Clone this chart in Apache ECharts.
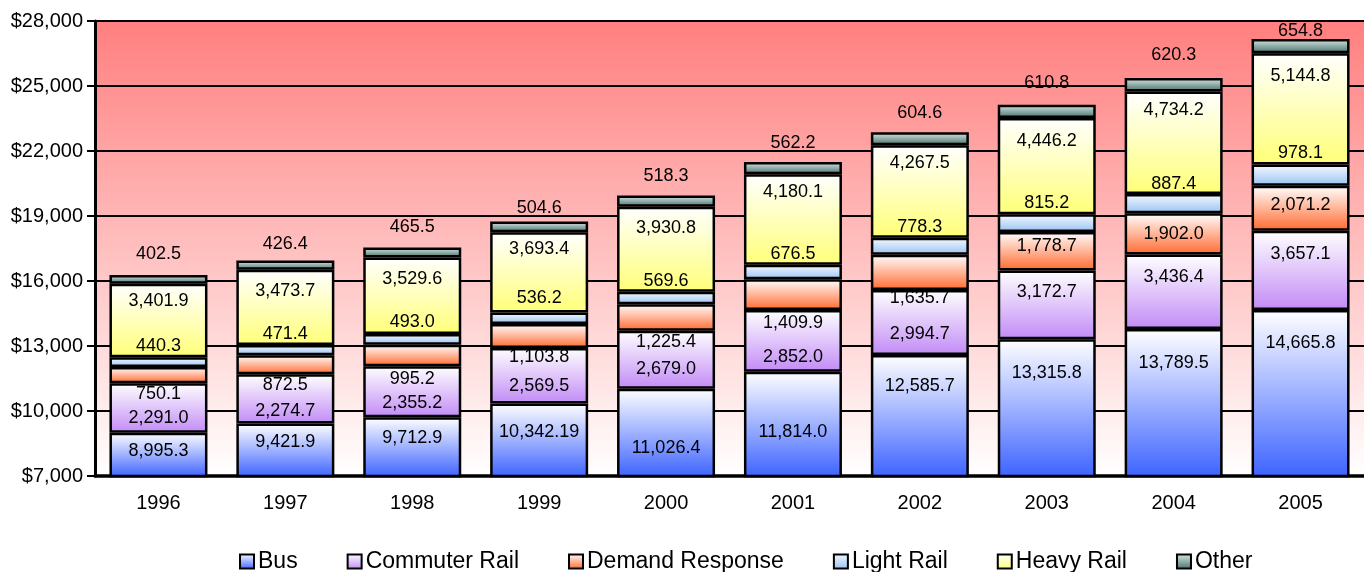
<!DOCTYPE html>
<html>
<head>
<meta charset="utf-8">
<script src="https://cdn.jsdelivr.net/npm/echarts@6/dist/echarts.min.js"></script>
<style>
  html, body { margin: 0; padding: 0; background: #ffffff; }
  #chart { width: 1364px; height: 572px; }
</style>
</head>
<body>
<div id="chart"></div>
<script>
// Transit operating expenses by mode, millions of dollars
const years = ['1996', '1997', '1998', '1999', '2000', '2001', '2002', '2003', '2004', '2005'];
const bus            = [8995.3, 9421.9, 9712.9, 10342.19, 11026.4, 11814.0, 12585.7, 13315.8, 13789.5, 14665.8];
const commuterRail   = [2291.0, 2274.7, 2355.2, 2569.5, 2679.0, 2852.0, 2994.7, 3172.7, 3436.4, 3657.1];
const demandResponse = [750.1, 872.5, 995.2, 1103.8, 1225.4, 1409.9, 1635.7, 1778.7, 1902.0, 2071.2];
const lightRail      = [440.3, 471.4, 493.0, 536.2, 569.6, 676.5, 778.3, 815.2, 887.4, 978.1];
const heavyRail      = [3401.9, 3473.7, 3529.6, 3693.4, 3930.8, 4180.1, 4267.5, 4446.2, 4734.2, 5144.8];
const other          = [402.5, 426.4, 465.5, 504.6, 518.3, 562.2, 604.6, 610.8, 620.3, 654.8];

// Value axis range and step
const yMin = 7000;
const yMax = 28000;
const yStep = 3000;

// Vertical nudge (px) of each value label from the centre of its segment
const labelNudge = {
  'Bus':             [-4, -8, -9, -8, 15, 8, -30, -35, -40, -51],
  'Commuter Rail':   [10, 12, 11, 10, 9, 16, 11, -13, -15, -16],
  'Demand Response': [19, 20, 24, 21, 25, 28, 26, -5, 0, -3],
  'Light Rail':      [-16, -16, -17, -20, -17, -18, -19, -20, -20, -22],
  'Heavy Rail':      [-19, -16, -17, -23, -21, -27, -29, -25, -33, -33],
  'Other':           [-25, -21, -25, -19, -25, -25, -26, -28, -30, -15]
};

// Fill of each mode: light top fading into the mode colour at the bottom
const modeFill = {
  'Bus':             ['#ffffff', '#3d63ff'],
  'Commuter Rail':   ['#ffffff', '#c28bf6'],
  'Demand Response': ['#ffffff', '#ff6a30'],
  'Light Rail':      ['#f6faff', '#98c2f2'],
  'Heavy Rail':      ['#ffffff', '#ffff78'],
  'Other':           ['#dceae7', '#47706b']
};

const modes = [
  ['Bus', bus],
  ['Commuter Rail', commuterRail],
  ['Demand Response', demandResponse],
  ['Light Rail', lightRail],
  ['Heavy Rail', heavyRail],
  ['Other', other]
];

const FONT = '"Liberation Sans", Arial, sans-serif';

function fmtValue(v) {
  return v.toLocaleString('en-US', { minimumFractionDigits: 1, maximumFractionDigits: 2 });
}

function vFill(top, bottom) {
  return new echarts.graphic.LinearGradient(0, 0, 0, 1, [
    { offset: 0, color: top },
    { offset: 1, color: bottom }
  ]);
}

const series = modes.map(([name, values]) => ({
  name: name,
  type: 'bar',
  stack: 'total',
  barWidth: 98,
  clip: true,
  itemStyle: {
    color: vFill(modeFill[name][0], modeFill[name][1]),
    borderColor: '#000000',
    borderWidth: 2.5
  },
  label: {
    show: true,
    position: 'inside',
    color: '#000000',
    textBorderWidth: 0,
    fontFamily: FONT,
    fontSize: 18,
    formatter: p => fmtValue(p.value)
  },
  data: values.map((v, i) => ({ value: v, label: { offset: [0, labelNudge[name][i]] } }))
}));

const chart = echarts.init(document.getElementById('chart'), null, { renderer: 'canvas' });

chart.setOption({
  animation: false,
  backgroundColor: '#ffffff',
  grid: {
    left: 95,
    right: -7,
    top: 21,
    bottom: 96,
    show: true,
    borderWidth: 0,
    backgroundColor: vFill('#ff7f7f', '#ffffff')
  },
  legend: {
    left: 234,
    top: 545,
    icon: 'rect',
    itemWidth: 14,
    itemHeight: 14,
    itemGap: 49,
    itemStyle: { borderColor: '#000000', borderWidth: 2 },
    textStyle: { color: '#000000', fontSize: 23, fontFamily: FONT, padding: [0, 0, 0, -1] },
    data: modes.map(m => m[0])
  },
  xAxis: {
    type: 'category',
    data: years,
    axisLine: { show: true, onZero: false, lineStyle: { color: '#000000', width: 3.5 } },
    axisTick: { show: false },
    axisLabel: { color: '#000000', fontSize: 20, fontFamily: FONT, margin: 17 },
    splitLine: { show: false }
  },
  yAxis: {
    type: 'value',
    min: yMin,
    max: yMax,
    interval: yStep,
    axisLine: { show: true, lineStyle: { color: '#000000', width: 3 } },
    axisTick: { show: true, length: 8, lineStyle: { color: '#000000', width: 2 } },
    axisLabel: {
      color: '#000000',
      fontSize: 20,
      fontFamily: FONT,
      margin: 12,
      formatter: v => '$' + v.toLocaleString('en-US')
    },
    splitLine: { show: true, lineStyle: { color: '#000000', width: 2 } }
  },
  series: series
});
</script>
</body>
</html>
